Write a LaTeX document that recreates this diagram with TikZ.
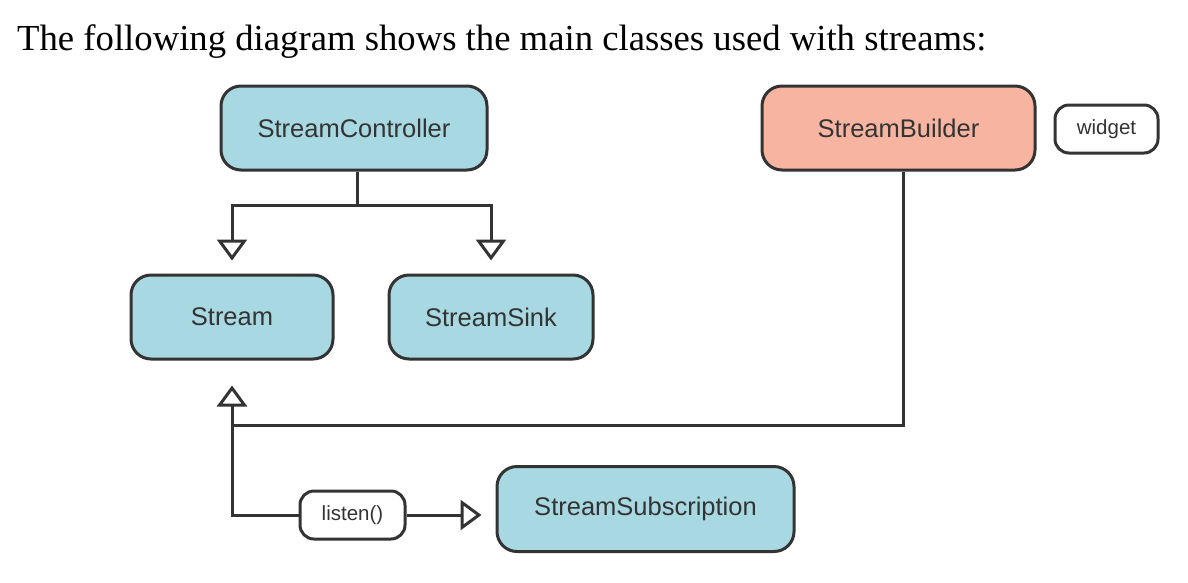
\documentclass[tikz,border=0pt]{standalone}
\usepackage{fontspec}
\setmainfont{Liberation Serif}
\newfontfamily\boxfont{Liberation Sans}
\usetikzlibrary{arrows.meta}
\definecolor{ink}{HTML}{333333}
\definecolor{boxblue}{HTML}{A8D9E2}
\definecolor{boxsalmon}{HTML}{F7B4A0}
\tikzset{
  cls/.style={draw=ink, line width=3pt, rounded corners=20pt, fill=boxblue,
    minimum height=84pt, inner sep=0pt, text=ink,
    font=\boxfont\fontsize{25.5}{30}\selectfont},
  tagbox/.style={draw=ink, line width=3pt, rounded corners=14pt, fill=white,
    minimum height=48pt, inner sep=0pt, text=ink,
    font=\boxfont\fontsize{20.5}{24}\selectfont},
  conn/.style={draw=ink, line width=3pt},
  arr/.style={conn, -{Triangle[open, length=21pt, width=30pt]}}
}
\begin{document}
\begin{tikzpicture}[x=1pt, y=-1pt]
\useasboundingbox (0,0) rectangle (1188,582);
\node[anchor=base west, inner sep=0pt, font=\fontsize{36.7}{44}\selectfont] (title) at (17,50)
  {The following diagram shows the main classes used with streams:};

\node[cls, minimum width=266pt] (SC) at (354,128) {StreamController};
\node[cls, minimum width=273pt, fill=boxsalmon] (SB) at (898.5,128) {StreamBuilder};
\node[tagbox, minimum width=103pt] (widget) at (1106.5,129) {widget};
\node[cls, minimum width=202pt] (Stream) at (232,317) {Stream};
\node[cls, minimum width=204pt] (Sink) at (491,317) {StreamSink};
\node[cls, minimum width=297pt, minimum height=85pt] (SS) at (645.5,509) {StreamSubscription};
\node[tagbox, minimum width=105pt] (listen) at (352.5,515) {listen()};

\coordinate (scj) at (357.7,205);
\coordinate (sbj) at (903.5,425);

\draw[conn] (SC.south -| scj) -- (scj);
\draw[arr, shorten >=13pt] (scj) -| (Stream.north);
\draw[arr, shorten >=13pt] (scj) -| (Sink.north);
\draw[arr, shorten >=25pt] (SB.south -| sbj) -- (sbj) -| (Stream.south);
\draw[conn] (Stream.south |- sbj) |- (listen.west);
\draw[arr, shorten >=14pt] (listen.east) -- (listen.east -| SS.west);
\end{tikzpicture}
\end{document}
